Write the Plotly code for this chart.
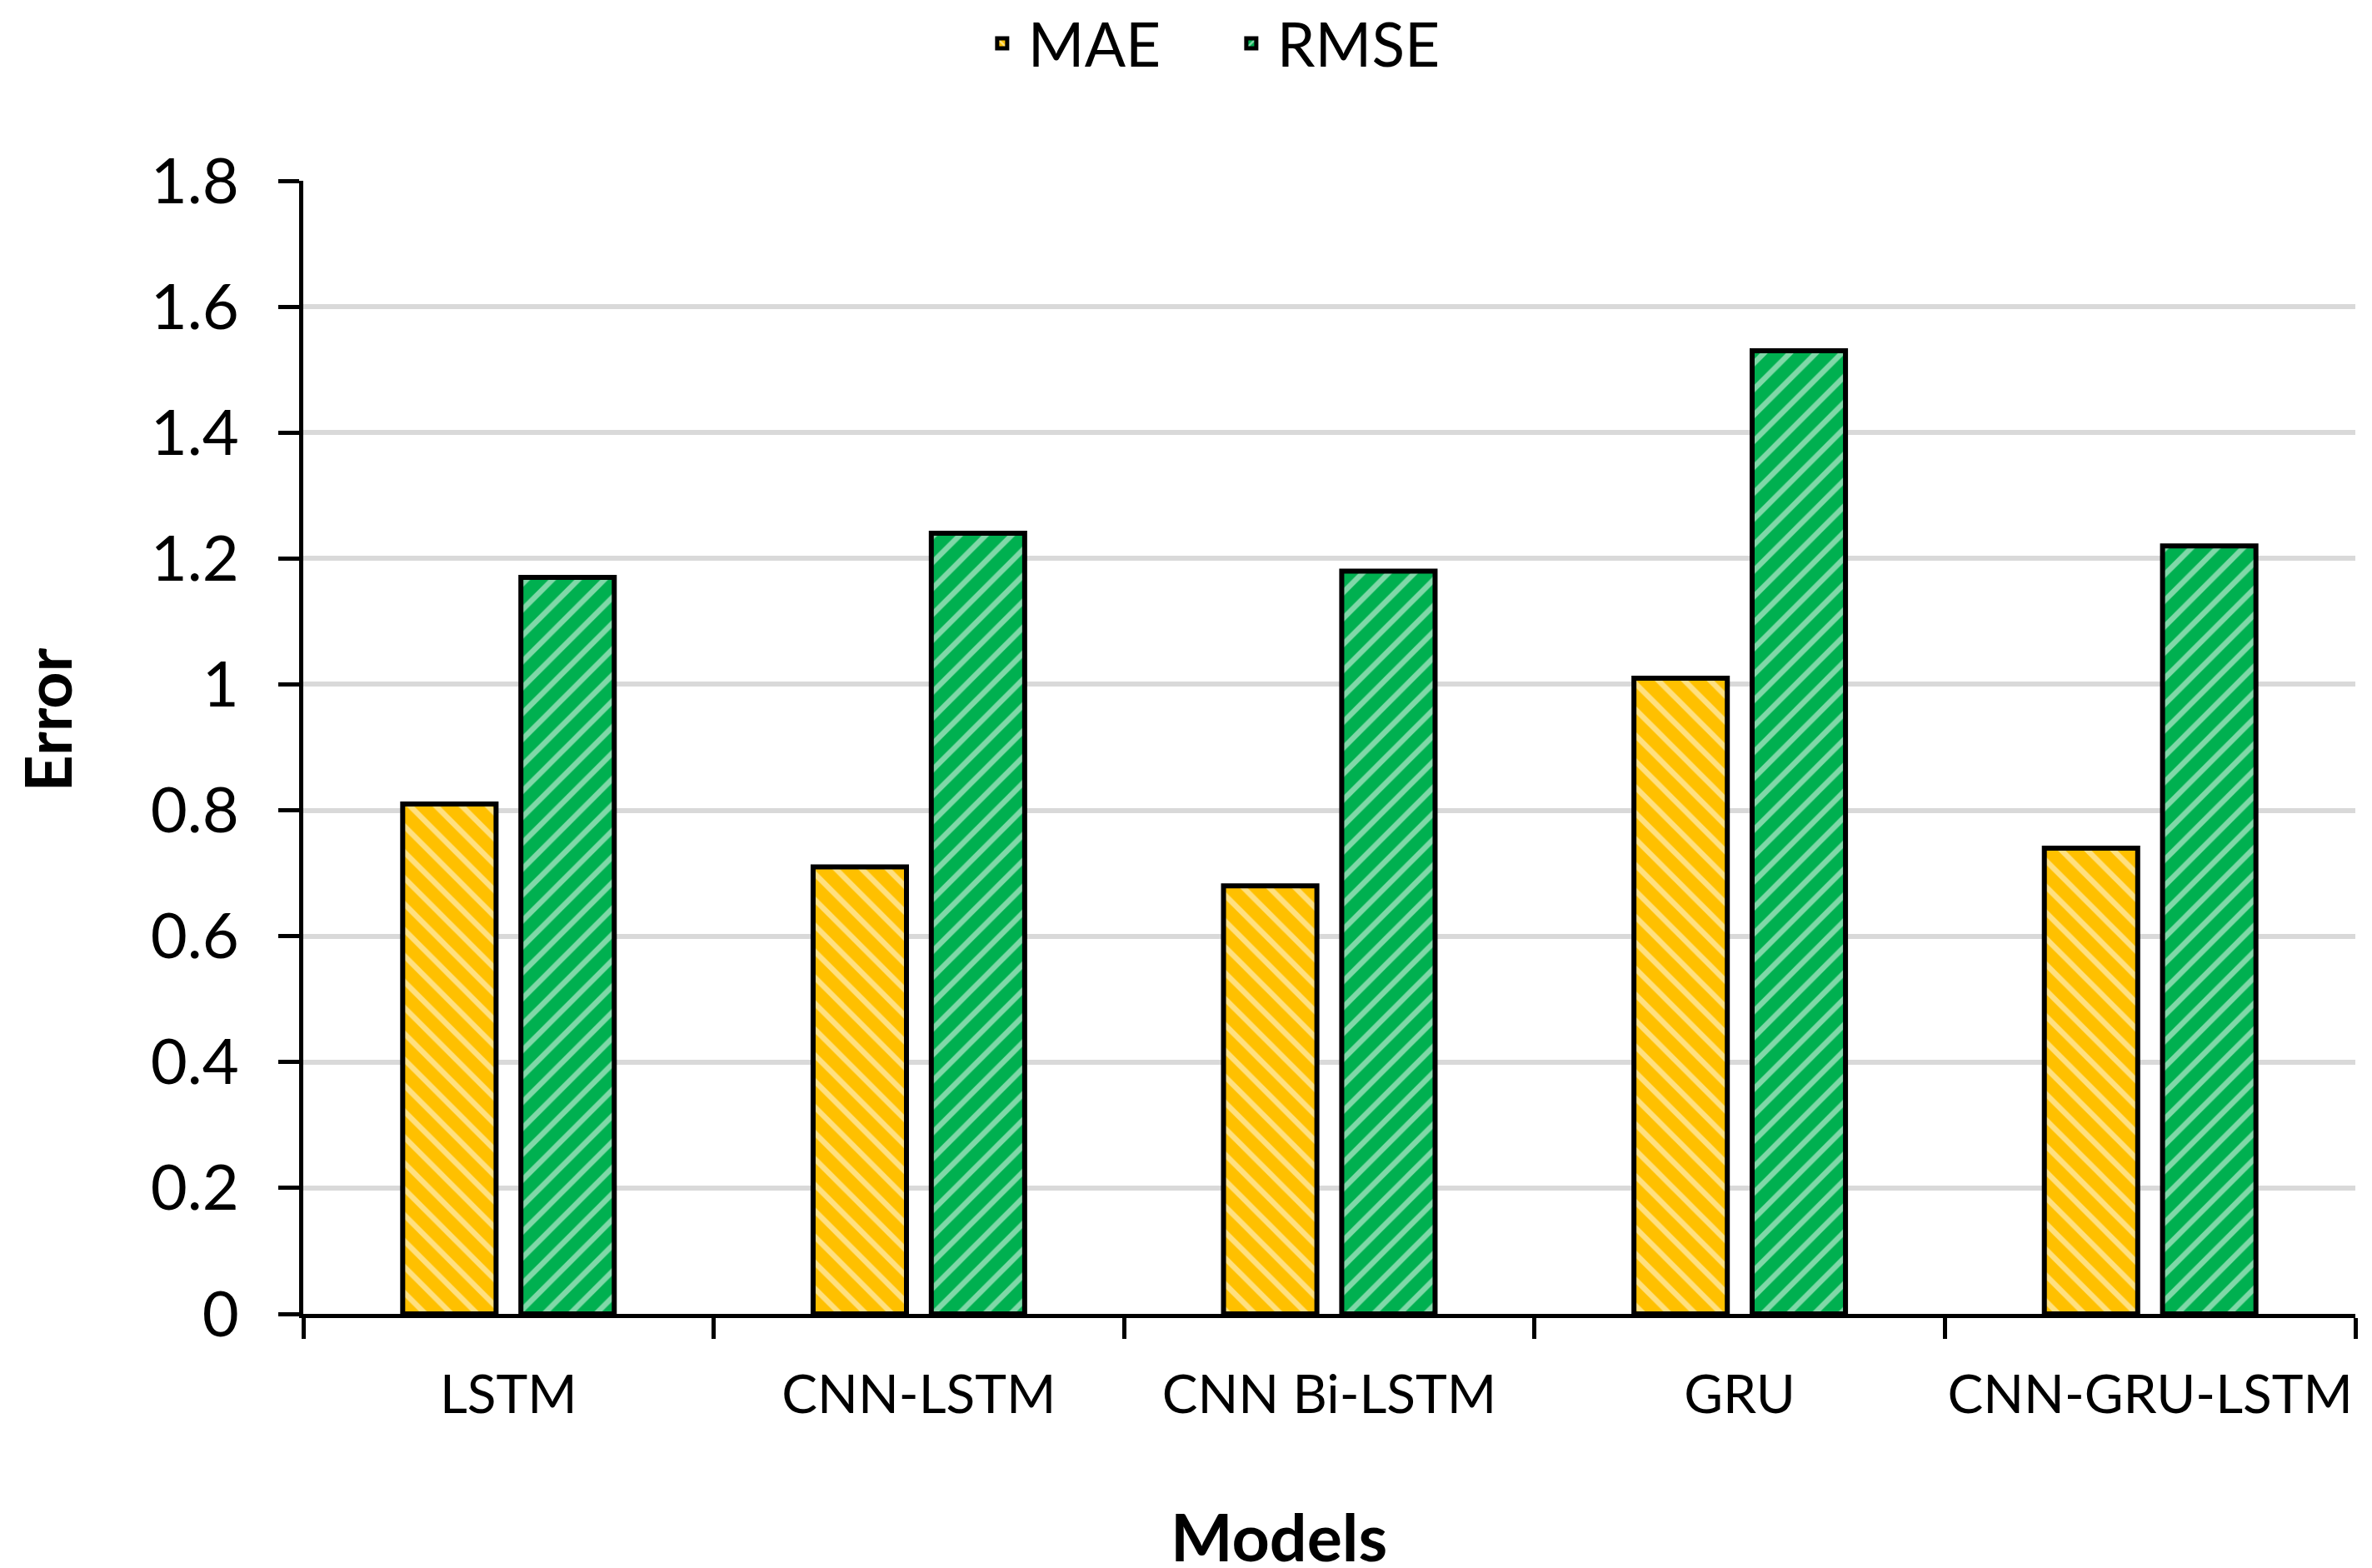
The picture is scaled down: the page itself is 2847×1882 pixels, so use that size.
import plotly.graph_objects as go

models = ["LSTM", "CNN-LSTM", "CNN Bi-LSTM", "GRU", "CNN-GRU-LSTM"]
mae = [0.81, 0.71, 0.68, 1.01, 0.74]
rmse = [1.17, 1.24, 1.18, 1.53, 1.22]
y_ticks = [0, 0.2, 0.4, 0.6, 0.8, 1.0, 1.2, 1.4, 1.6, 1.8]
y_tick_labels = ["0", "0.2", "0.4", "0.6", "0.8", "1", "1.2", "1.4", "1.6", "1.8"]

FONT = "Lato"
W, H = 2839, 1874  # page body has an 8px default margin

fig = go.Figure()
fig.add_trace(go.Bar(
    x=models, y=mae, name="MAE",
    marker=dict(color="#FFC000", line=dict(color="black", width=6),
                pattern=dict(shape="\\", fgcolor="white", bgcolor="#FFC000",
                             size=22, solidity=0.3)),
))
fig.add_trace(go.Bar(
    x=models, y=rmse, name="RMSE",
    marker=dict(color="#00B050", line=dict(color="black", width=6),
                pattern=dict(shape="/", fgcolor="white", bgcolor="#00B050",
                             size=22, solidity=0.3)),
))

fig.update_layout(
    width=W, height=H,
    margin=dict(l=356, r=20, t=209, b=305, autoexpand=False),
    paper_bgcolor="white", plot_bgcolor="white",
    barmode="group", bargap=0.424, bargroupgap=0.21,
    font=dict(family=FONT, color="black"),
    legend=dict(orientation="h", x=0.328, xanchor="left", y=1 - 44 / H, yanchor="middle",
                yref="container", font=dict(size=73, family=FONT), itemwidth=52,
                entrywidth=232, entrywidthmode="pixels",
                traceorder="normal"),
    xaxis=dict(
        showline=True, linecolor="black", linewidth=5,
        ticks="outside", ticklen=25, tickwidth=5, tickcolor="black",
        tickson="boundaries", showgrid=False, ticklabelstandoff=37, tickangle=0,
        tickfont=dict(size=64, family=FONT),
    ),
    yaxis=dict(
        range=[0, 1.8], tickvals=y_ticks, ticktext=y_tick_labels,
        showline=True, linecolor="black", linewidth=5,
        ticks="outside", ticklen=25, tickwidth=5, tickcolor="black",
        showgrid=True, gridcolor="#D9D9D9", gridwidth=6,
        zeroline=False, ticklabelstandoff=32,
        tickfont=dict(size=76, family=FONT),
    ),
    annotations=[
        dict(text="<b>Models</b>", xref="paper", yref="paper", x=0.4755, y=-0.1956,
             xanchor="center", yanchor="middle", showarrow=False,
             font=dict(size=79, family=FONT, color="black")),
        dict(text="<b>Error</b>", xref="paper", yref="paper", x=-0.125, y=0.524,
             xanchor="center", yanchor="middle", showarrow=False, textangle=-90,
             font=dict(size=77, family=FONT, color="black")),
    ],
)
fig.write_html("out.html")
